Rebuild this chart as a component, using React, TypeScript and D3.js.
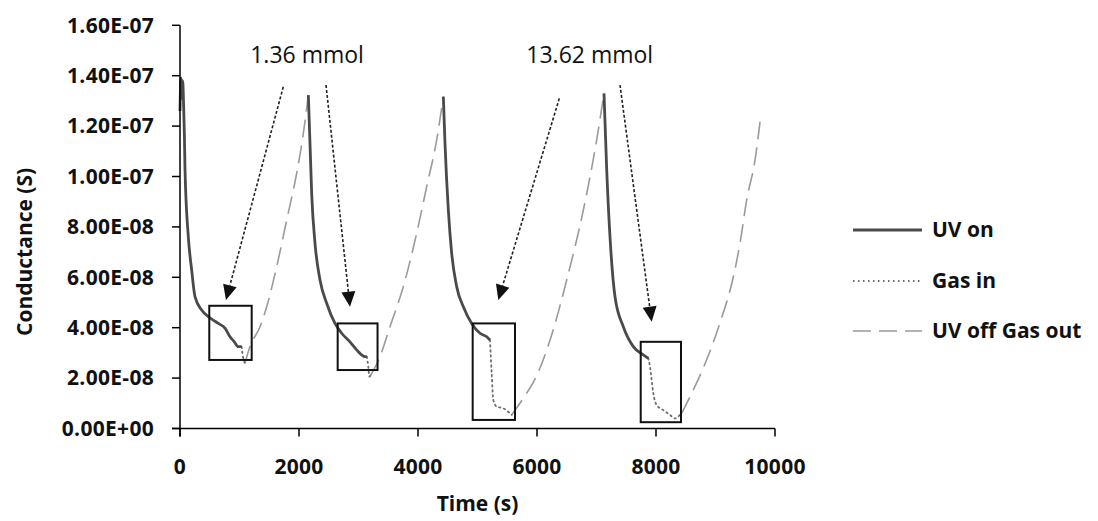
import React from "react";
import * as d3 from "d3";

type Pt = [number, number];

// Conductance readings (time in s, conductance in S), split by phase of each cycle
const uvOn1: Pt[] = [[0, 12.6e-8], [15, 13.9e-8], [30, 13.1e-8], [45, 13.8e-8], [60, 12.9e-8], [75, 11.5e-8], [84, 10.3e-8], [140, 7.6e-8], [196, 6.29e-8], [252, 5.23e-8], [364, 4.7e-8], [476, 4.44e-8], [560, 4.3e-8], [644, 4.17e-8], [756, 3.98e-8], [840, 3.64e-8], [910, 3.45e-8], [980, 3.25e-8], [1036, 3.25e-8]];
const gasIn1: Pt[] = [[1036, 3.25e-8], [1053, 2.92e-8], [1075, 2.7e-8], [1092, 2.59e-8]];
const gasOut1: Pt[] = [[1092, 2.59e-8], [1176, 3.25e-8], [1345, 4.04e-8], [1457, 4.83e-8], [1625, 6.42e-8], [1793, 8.27e-8], [1961, 10.13e-8], [2073, 11.71e-8], [2157, 13.23e-8]];

const uvOn2: Pt[] = [[2157, 13.23e-8], [2185, 11.3e-8], [2213, 9.33e-8], [2269, 7.35e-8], [2353, 5.89e-8], [2465, 4.97e-8], [2605, 4.17e-8], [2717, 3.78e-8], [2857, 3.44e-8], [2969, 3.12e-8], [3109, 2.85e-8], [3140, 2.85e-8]];
const gasIn2: Pt[] = [[3140, 2.85e-8], [3165, 2.45e-8], [3182, 2.06e-8], [3200, 2.1e-8]];
const gasOut2: Pt[] = [[3200, 2.1e-8], [3361, 2.85e-8], [3529, 4.04e-8], [3753, 5.63e-8], [3978, 7.75e-8], [4146, 9.6e-8], [4314, 11.45e-8], [4426, 13.17e-8]];

const uvOn3: Pt[] = [[4426, 13.17e-8], [4454, 11.3e-8], [4510, 8.67e-8], [4566, 6.95e-8], [4650, 5.63e-8], [4762, 4.83e-8], [4902, 4.17e-8], [5042, 3.78e-8], [5154, 3.64e-8], [5210, 3.51e-8]];
const gasIn3: Pt[] = [[5210, 3.51e-8], [5238, 2.19e-8], [5266, 1.13e-8], [5322, 0.87e-8], [5434, 0.8e-8], [5546, 0.6e-8], [5574, 0.54e-8]];
const gasOut3: Pt[] = [[5574, 0.54e-8], [5770, 1.2e-8], [5995, 2.1e-8], [6218, 3.5e-8], [6499, 5.89e-8], [6779, 8.67e-8], [7003, 11.45e-8], [7126, 13.3e-8]];

const uvOn4: Pt[] = [[7126, 13.3e-8], [7171, 10.3e-8], [7227, 7.6e-8], [7311, 5.23e-8], [7451, 4.04e-8], [7619, 3.25e-8], [7787, 2.92e-8], [7871, 2.79e-8]];
const gasIn4: Pt[] = [[7871, 2.79e-8], [7899, 2.45e-8], [7927, 1.92e-8], [7955, 1.4e-8], [8011, 0.93e-8], [8123, 0.73e-8], [8235, 0.54e-8], [8319, 0.4e-8], [8403, 0.54e-8], [8431, 0.6e-8]];
const gasOut4: Pt[] = [[8431, 0.6e-8], [8600, 1.4e-8], [8795, 2.4e-8], [9076, 4.2e-8], [9300, 6.02e-8], [9412, 7.35e-8], [9524, 9.07e-8], [9664, 10.65e-8], [9759, 12.37e-8]];

// Highlight boxes: [tStart, tEnd] and [gLow, gHigh]
const boxTimes: Pt[] = [[492, 1205], [2650, 3320], [4919, 5630], [7743, 8420]];
const boxValues: Pt[] = [[2.72e-8, 4.87e-8], [2.32e-8, 4.17e-8], [0.34e-8, 4.17e-8], [0.25e-8, 3.44e-8]];

// Annotation arrows: start and tip, in (time, conductance)
const arrowStarts: Pt[] = [[1736, 13.56e-8], [2454, 13.63e-8], [6375, 13.1e-8], [7395, 13.63e-8]];
const arrowTips: Pt[] = [[773, 5.1e-8], [2857, 4.83e-8], [5350, 5.1e-8], [7927, 4.24e-8]];

const doseLabels = ["1.36 mmol", "13.62 mmol"];
const doseLabelAnchors: Pt[] = [[1180, 14.5e-8], [5820, 14.5e-8]];

const xTicks = [0, 2000, 4000, 6000, 8000, 10000];
const yTicks = [0, 2e-8, 4e-8, 6e-8, 8e-8, 10e-8, 12e-8, 14e-8, 16e-8];
const yTickLabels = ["0.00E+00", "2.00E-08", "4.00E-08", "6.00E-08", "8.00E-08", "1.00E-07", "1.20E-07", "1.40E-07", "1.60E-07"];

const legendLabels = ["UV on", "Gas in", "UV off Gas out"];

const W = 1098;
const H = 521;
const FONT = "'Open Sans', 'Noto Sans', sans-serif";

const styles = {
  uvOn: { stroke: "#4a4a4a", width: 2.8, dash: "none" },
  gasIn: { stroke: "#6e6e6e", width: 1.8, dash: "1.5,3.5" },
  gasOut: { stroke: "#9a9a9a", width: 1.6, dash: "18,8" },
};

export default function App() {
  const x = d3.scaleLinear().domain([0, 10000]).range([180, 775]);
  const y = d3.scaleLinear().domain([0, 16e-8]).range([428.5, 25.3]);
  const line = d3
    .line<Pt>()
    .x((d) => x(d[0]))
    .y((d) => y(d[1]))
    .curve(d3.curveMonotoneX);

  const uvOn = [uvOn1, uvOn2, uvOn3, uvOn4];
  const gasIn = [gasIn1, gasIn2, gasIn3, gasIn4];
  const gasOut = [gasOut1, gasOut2, gasOut3, gasOut4];

  const [x0, x1] = x.range();
  const [y0, y1] = y.range();

  const arrowHead = (from: Pt, to: Pt) => {
    const fx = x(from[0]), fy = y(from[1]);
    const tx = x(to[0]), ty = y(to[1]);
    const ang = Math.atan2(ty - fy, tx - fx);
    const len = 15, half = 7;
    const bx = tx - len * Math.cos(ang), by = ty - len * Math.sin(ang);
    const px = -Math.sin(ang), py = Math.cos(ang);
    return {
      line: `M${fx},${fy}L${bx},${by}`,
      head: `M${tx},${ty}L${bx + half * px},${by + half * py}L${bx - half * px},${by - half * py}Z`,
    };
  };

  const legendY = [230, 281, 331];
  const legendStyle = [styles.uvOn, styles.gasIn, styles.gasOut];

  return (
    <svg width={W} height={H} style={{ position: "absolute", left: 0, top: 0, background: "#fff" }} fontFamily={FONT}>
      <rect width={W} height={H} fill="#fff" />

      {/* series */}
      {gasOut.map((d, i) => (
        <path key={`go${i}`} d={line(d) ?? ""} fill="none" stroke={styles.gasOut.stroke} strokeWidth={styles.gasOut.width} strokeDasharray={styles.gasOut.dash} />
      ))}
      {gasIn.map((d, i) => (
        <path key={`gi${i}`} d={line(d) ?? ""} fill="none" stroke={styles.gasIn.stroke} strokeWidth={styles.gasIn.width} strokeDasharray={styles.gasIn.dash} strokeLinecap="round" />
      ))}
      {uvOn.map((d, i) => (
        <path key={`uv${i}`} d={line(d) ?? ""} fill="none" stroke={styles.uvOn.stroke} strokeWidth={styles.uvOn.width} strokeLinejoin="round" />
      ))}

      {/* axes */}
      <line x1={x0} x2={x0} y1={y1} y2={y0 + 8} stroke="#000" strokeWidth={1.5} />
      <line x1={x0 - 8} x2={x1} y1={y0} y2={y0} stroke="#000" strokeWidth={1.5} />
      {yTicks.map((t, i) => (
        <g key={`yt${i}`}>
          <line x1={x0 - 8} x2={x0} y1={y(t)} y2={y(t)} stroke="#000" strokeWidth={1.5} />
          <text x={x0 - 26} y={y(t)} dy="0.35em" textAnchor="end" fontSize={21} fontWeight={700} fill="#111" letterSpacing={0.3}>
            {yTickLabels[i]}
          </text>
        </g>
      ))}
      {xTicks.map((t) => (
        <g key={`xt${t}`}>
          <line x1={x(t)} x2={x(t)} y1={y0} y2={y0 + 8} stroke="#000" strokeWidth={1.5} />
          <text x={x(t)} y={y0 + 38} dy="0.35em" textAnchor="middle" fontSize={21} fontWeight={700} fill="#111" letterSpacing={0.3}>
            {t}
          </text>
        </g>
      ))}
      <text transform={`translate(25,${(y0 + y1) / 2 + 25}) rotate(-90)`} textAnchor="middle" dy="0.35em" fontSize={21} fontWeight={700} fill="#111">
        Conductance (S)
      </text>
      <text x={(x0 + x1) / 2} y={504} textAnchor="middle" dy="0.35em" fontSize={21} fontWeight={700} fill="#111">
        Time (s)
      </text>

      {/* highlight boxes */}
      {boxTimes.map((bt, i) => (
        <rect
          key={`bx${i}`}
          x={x(bt[0])}
          y={y(boxValues[i][1])}
          width={x(bt[1]) - x(bt[0])}
          height={y(boxValues[i][0]) - y(boxValues[i][1])}
          fill="none"
          stroke="#111"
          strokeWidth={2}
        />
      ))}

      {/* arrows */}
      {arrowStarts.map((s, i) => {
        const a = arrowHead(s, arrowTips[i]);
        return (
          <g key={`ar${i}`}>
            <path d={a.line} stroke="#222" strokeWidth={1.6} strokeDasharray="3,2" fill="none" />
            <path d={a.head} fill="#111" />
          </g>
        );
      })}
      {doseLabels.map((l, i) => (
        <text key={l} x={x(doseLabelAnchors[i][0])} y={y(doseLabelAnchors[i][1])} fontSize={23} fill="#111">
          {l}
        </text>
      ))}

      {/* legend */}
      {legendLabels.map((l, i) => (
        <g key={l}>
          <line x1={853} x2={922} y1={legendY[i]} y2={legendY[i]} stroke={legendStyle[i].stroke} strokeWidth={legendStyle[i].width} strokeDasharray={legendStyle[i].dash} />
          <text x={932} y={legendY[i]} dy="0.35em" fontSize={21} fontWeight={700} fill="#111">
            {l}
          </text>
        </g>
      ))}
    </svg>
  );
}
